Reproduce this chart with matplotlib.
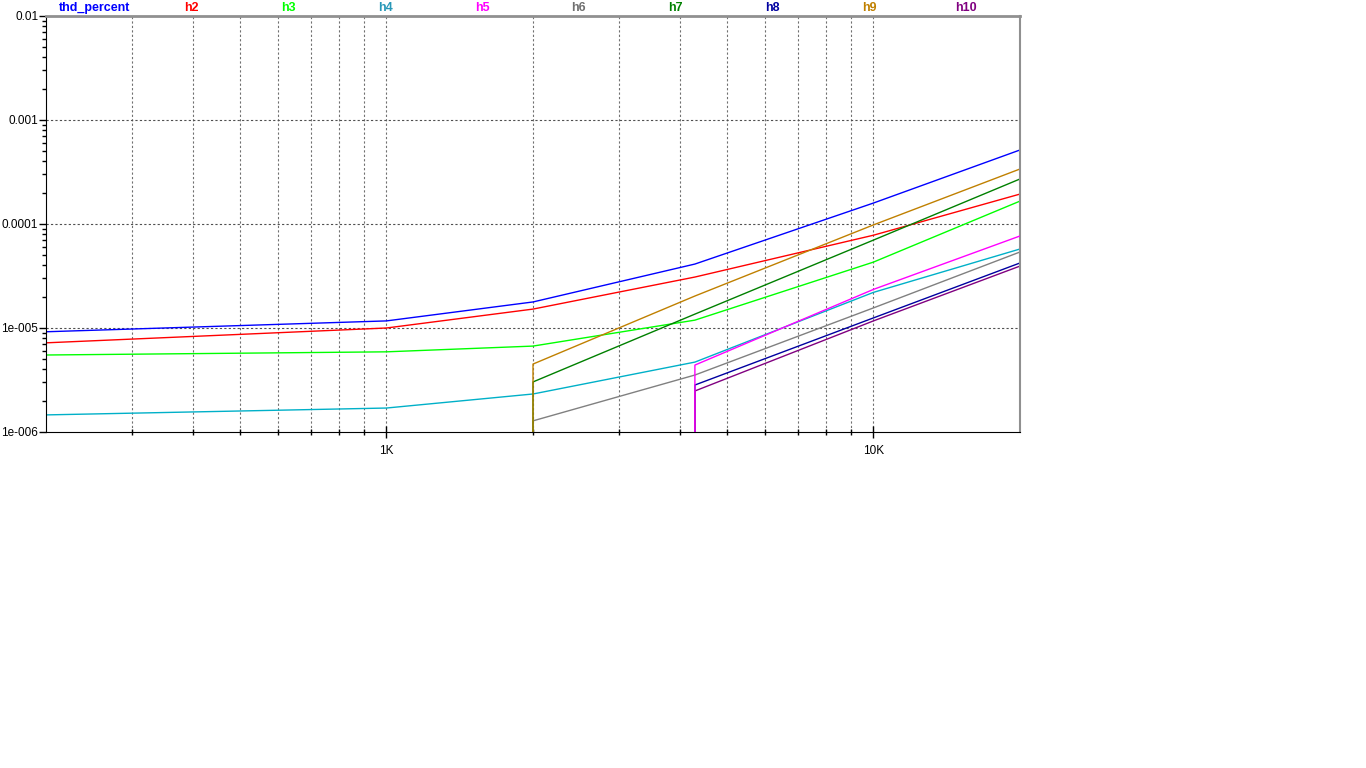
"""
THD and harmonic levels versus frequency, log-log.
"""

import matplotlib
matplotlib.use("Agg")
import matplotlib.pyplot as plt
import numpy as np

# sweep frequencies (Hz)
freqs = [200, 1000, 2000, 4300, 10000, 20000]

# harmonic levels; None = not present at that frequency
thd_percent = [9.2e-6, 1.17e-5, 1.78e-5, 4.12e-5, 1.59e-4, 5.15e-4]
h2 = [7.2e-6, 1.0e-5, 1.52e-5, 3.09e-5, 7.8e-5, 1.94e-4]
h3 = [5.5e-6, 5.9e-6, 6.7e-6, 1.19e-5, 4.3e-5, 1.66e-4]
h4 = [1.46e-6, 1.70e-6, 2.32e-6, 4.7e-6, 2.2e-5, 5.75e-5]
h5 = [None, None, None, 4.4e-6, 2.35e-5, 7.67e-5]
h6 = [None, None, 1.28e-6, 3.53e-6, 1.56e-5, 5.38e-5]
h7 = [None, None, 3.03e-6, 1.36e-5, 7.0e-5, 2.71e-4]
h8 = [None, None, None, 2.83e-6, 1.25e-5, 4.22e-5]
h9 = [None, None, 4.5e-6, 2.03e-5, 9.8e-5, 3.38e-4]
h10 = [None, None, None, 2.48e-6, 1.17e-5, 3.94e-5]

names = ["thd_percent", "h2", "h3", "h4", "h5", "h6", "h7", "h8", "h9", "h10"]
series = [thd_percent, h2, h3, h4, h5, h6, h7, h8, h9, h10]
colors = ["#0000FF", "#FF0000", "#00FF00", "#00B0C8", "#FF00FF",
          "#808080", "#008000", "#0000A0", "#C08000", "#800080"]
label_colors = ["#0000FF", "#FF0000", "#00FF00", "#2898B8", "#FF00FF",
                "#707070", "#008000", "#0000A0", "#C08000", "#800080"]

y_ticks = [1e-6, 1e-5, 1e-4, 1e-3, 1e-2]
y_ticklabels = ["1e-006", "1e-005", "0.0001", "0.001", "0.01"]
x_ticks = [1000, 10000]
x_ticklabels = ["1K", "10K"]

W, H = 1366, 768
fig = plt.figure(figsize=(W / 100, H / 100), dpi=100)
ax = fig.add_axes([46 / W, 1 - 432 / H, (1020 - 46) / W, (432 - 16) / H])

for name, vals, col in zip(names, series, colors):
    x = [f for f, v in zip(freqs, vals) if v is not None]
    y = [v for v in vals if v is not None]
    if len(x) < len(freqs):
        # series switches on mid-sweep: rise from nothing at its first point
        x = [x[0]] + x
        y = [0.0] + y
    z = 3 if name == "h5" else 2
    ax.plot(x, y, color=col, lw=1.0, zorder=z)

ax.set_xscale("log")
ax.set_yscale("log", nonpositive="clip")
ax.set_xlim(200, 20000)
ax.set_ylim(1e-6, 1e-2)

# grid: vertical at every x tick, horizontal at decades only
minor_x = [f * m for f in (100, 1000) for m in range(2, 10)
           if 200 < f * m < 20000 and f * m not in (1000, 10000)]
for f in minor_x + x_ticks:
    ax.axvline(f, color="#707070", lw=0.8, ls=(0, (2, 2)), zorder=0)
for v in y_ticks[1:-1]:
    ax.axhline(v, color="#505050", lw=0.8, ls=(0, (2, 2)), zorder=0)

ax.set_xticks(x_ticks)
ax.set_xticklabels(x_ticklabels)
ax.set_xticks(minor_x, minor=True)
ax.set_xticklabels([], minor=True)
ax.set_yticks(y_ticks)
ax.set_yticklabels(y_ticklabels)
minor_y = [d * m for d in (1e-6, 1e-5, 1e-4, 1e-3) for m in range(2, 10)]
ax.set_yticks(minor_y, minor=True)
ax.set_yticklabels([], minor=True)

ax.tick_params(axis="y", which="major", direction="out", length=5, width=1,
               labelsize=8.5, pad=0.5)
ax.tick_params(axis="y", which="minor", direction="out", length=3, width=1)
ax.tick_params(axis="x", which="major", direction="inout", length=8, width=1,
               labelsize=8.5, pad=5)
ax.tick_params(axis="x", which="minor", direction="inout", length=5, width=1)
for lab in ax.get_xticklabels() + ax.get_yticklabels():
    lab.set_fontfamily("Liberation Sans")

ax.spines["left"].set_color("black")
ax.spines["bottom"].set_color("black")
ax.spines["top"].set_color("#909090")
ax.spines["top"].set_linewidth(2)
ax.spines["right"].set_color("#909090")
ax.spines["right"].set_linewidth(1.5)

# series names across the top
label_x = np.linspace(95, 966, len(names))
for name, lx, col in zip(names, label_x, label_colors):
    fig.text(lx / W, 1 - 8 / H, name, color=col, ha="center", va="center",
             fontsize=9, fontweight="bold", family="Liberation Sans")

fig.savefig("out.png", dpi=100, facecolor="white")
